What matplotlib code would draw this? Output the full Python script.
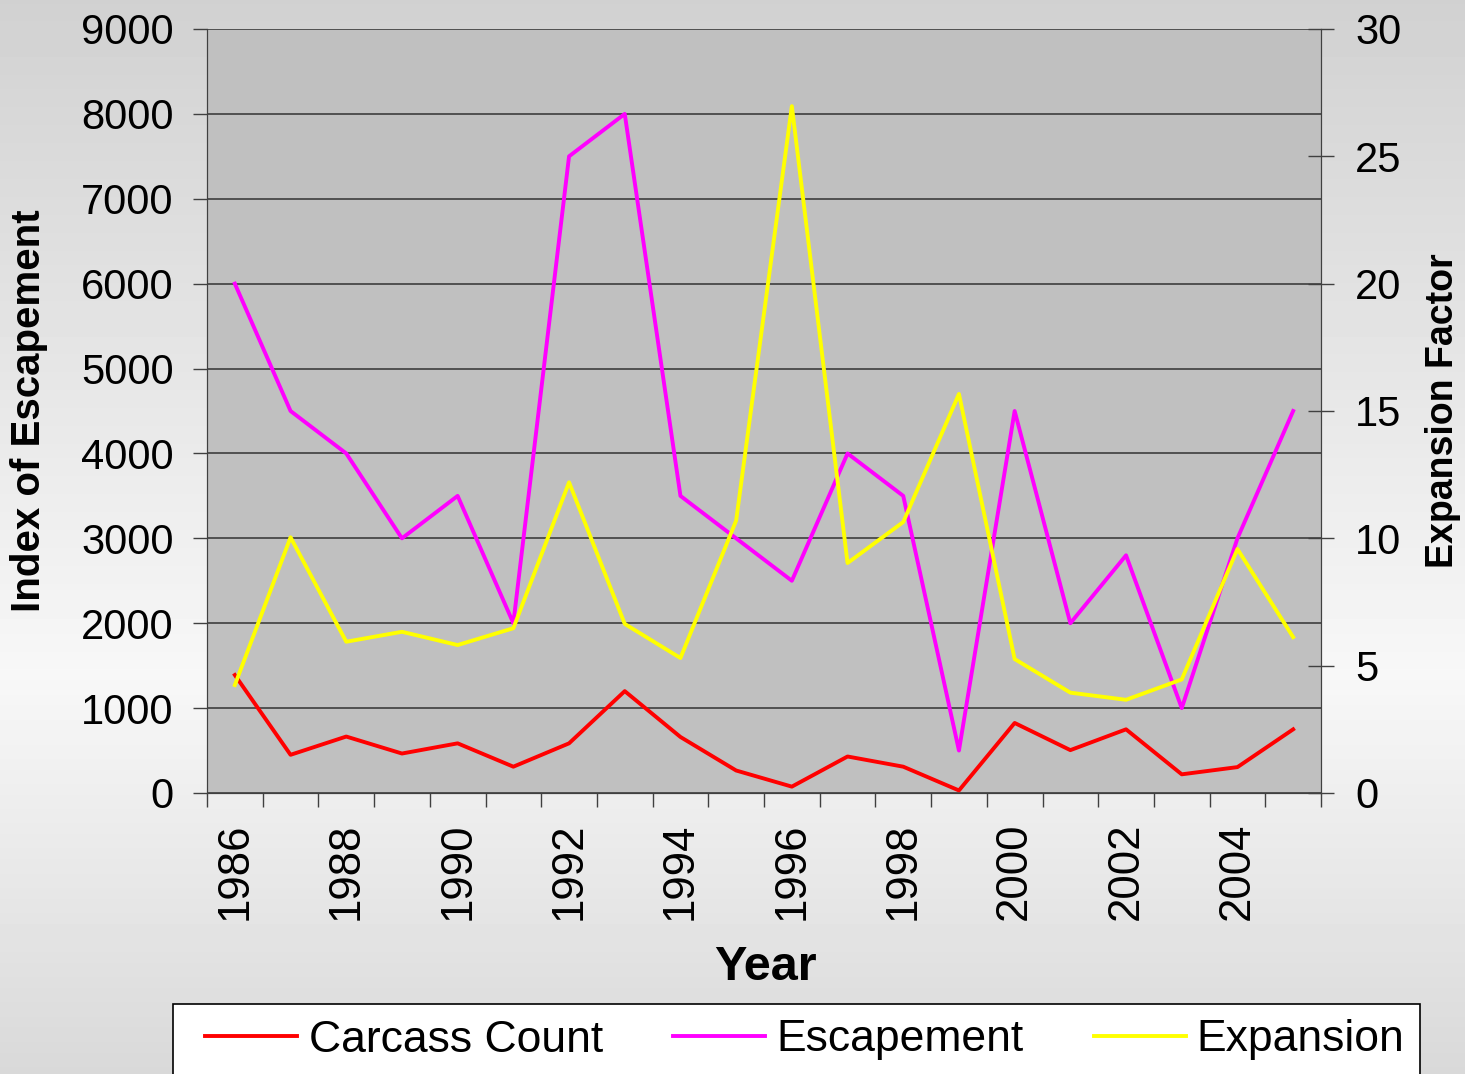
import numpy as np
import matplotlib
matplotlib.use("Agg")
import matplotlib.pyplot as plt
from matplotlib.patches import Rectangle
from matplotlib.ticker import FixedLocator, MultipleLocator

plt.rcParams['font.family'] = ['Liberation Sans', 'DejaVu Sans']

years = [1986, 1987, 1988, 1989, 1990, 1991, 1992, 1993, 1994, 1995,
         1996, 1997, 1998, 1999, 2000, 2001, 2002, 2003, 2004, 2005]
carcass = [1390, 450, 665, 465, 585, 310, 585, 1200, 660, 265,
           75, 430, 310, 30, 825, 505, 750, 220, 305, 750]
escapement = [6000, 4500, 4000, 3000, 3500, 2000, 7500, 8000, 3500, 3000,
              2500, 4000, 3500, 500, 4500, 2000, 2800, 1000, 3000, 4500]
expansion = [4.24, 10.04, 5.94, 6.33, 5.81, 6.47, 12.2, 6.64, 5.3, 10.7,
             26.97, 9.03, 10.64, 15.67, 5.26, 3.94, 3.66, 4.46, 9.58, 6.12]
year_labels = [str(y) if (y - 1986) % 2 == 0 else '' for y in years]

W, H = 1465, 1074
fig = plt.figure(figsize=(W / 100, H / 100), dpi=100)

# background gradient
bg = fig.add_axes([0, 0, 1, 1], zorder=-10)
yy = np.linspace(0, 1, 300)
shade = np.where(yy < 0.63, 0.82 + (0.97 - 0.82) * yy / 0.63,
                 0.97 - (0.97 - 0.85) * (yy - 0.63) / 0.37)
bg.imshow(shade[:, None] * np.ones((1, 10)), cmap='gray', vmin=0, vmax=1,
          aspect='auto', extent=[0, 1, 1, 0])
bg.axis('off')

L, R, T, B = 207, 1321, 29, 793
ax = fig.add_axes([L / W, 1 - B / H, (R - L) / W, (B - T) / H])
ax.set_facecolor('#C0C0C0')
x = np.arange(len(years))

ax.plot(x, carcass, color='#FF0000', lw=2.8, label='Carcass Count')
ax.plot(x, escapement, color='#FF00FF', lw=2.8, label='Escapement')
ax.set_xlim(-0.5, len(years) - 0.5)
ax.set_ylim(0, 9000)
ax.yaxis.set_major_locator(MultipleLocator(1000))
ax.grid(axis='y', color='#333333', lw=1.1)
ax.set_axisbelow(True)

ax.set_xticks(x)
ax.set_xticklabels(year_labels, rotation=90, fontsize=31.5)
ax.xaxis.set_minor_locator(FixedLocator(np.arange(-0.5, len(years), 1)))
ax.tick_params(axis='x', which='major', length=0, pad=21)
ax.tick_params(axis='x', which='minor', length=10, width=1, color='#404040')
ax.tick_params(axis='y', labelsize=30, length=10, width=1, color='#404040', pad=14)

for s in ['left', 'bottom', 'right', 'top']:
    ax.spines[s].set_color('#404040')
ax.spines['top'].set_visible(False)

ax2 = ax.twinx()
ax2.plot(x, expansion, color='#FFFF00', lw=2.8, label='Expansion')
ax2.set_ylim(0, 30)
ax2.yaxis.set_major_locator(MultipleLocator(5))
ax2.tick_params(axis='y', labelsize=30, direction='inout', length=19, width=1,
                color='#404040', pad=15)
for s in ['left', 'bottom', 'right', 'top']:
    ax2.spines[s].set_color('#404040')
ax2.spines['top'].set_visible(False)

ax.set_xlabel('Year', fontsize=35, fontweight='bold')
ax.xaxis.set_label_coords(0.501, -0.199)
ax.set_ylabel('Index of Escapement', fontsize=29, fontweight='bold')
ax.yaxis.set_label_coords(-0.1427, 0.5)
ax2.set_ylabel('Expansion Factor', fontsize=27, fontweight='bold')
ax2.yaxis.set_label_coords(1.0934, 0.5)

# legend box
fig.patches.append(Rectangle((173 / W, -0.05), (1420 - 173) / W, 0.05 + 1 - 1004 / H,
                             transform=fig.transFigure, facecolor='white',
                             edgecolor='black', lw=1.2, zorder=5))
h1, l1 = ax.get_legend_handles_labels()
h2, l2 = ax2.get_legend_handles_labels()
leg = fig.legend(h1 + h2, l1 + l2, loc='center', bbox_to_anchor=(805 / W, 1 - 1040 / H),
                 ncol=3, frameon=False, fontsize=32, handlelength=2.07,
                 handletextpad=0.25, columnspacing=1.58)
leg.set_zorder(6)

fig.savefig('out.png', dpi=100)
